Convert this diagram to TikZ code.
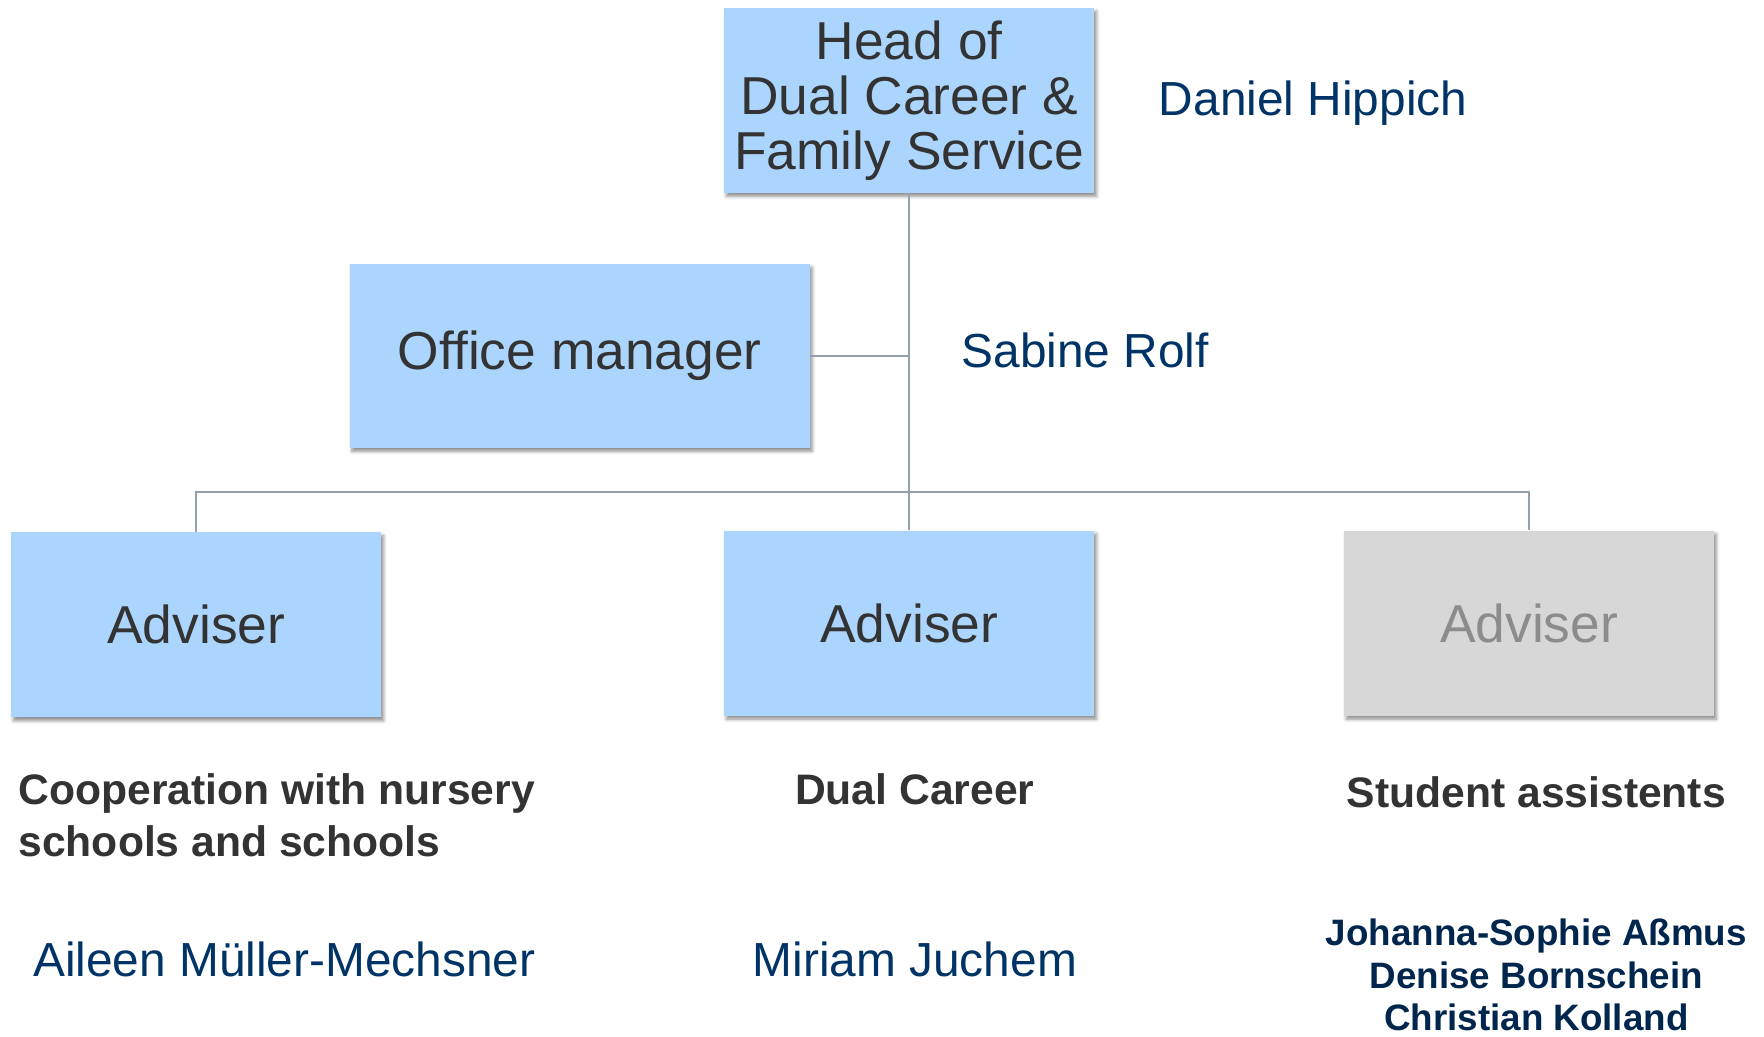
\documentclass[tikz,border=0pt]{standalone}
\usetikzlibrary{positioning,shadows.blur}
\usepackage{fontspec}
\setmainfont{Liberation Sans}
\definecolor{boxblue}{RGB}{171,213,252}
\definecolor{boxgrey}{RGB}{215,215,215}
\definecolor{textgrey}{RGB}{51,51,51}
\definecolor{greytext}{RGB}{140,140,140}
\definecolor{nameblue}{RGB}{0,51,102}
\definecolor{navy}{RGB}{0,38,77}
\definecolor{linegrey}{RGB}{150,160,172}

\begin{document}
\begin{tikzpicture}
		[x=0.5pt,y=-0.5pt,
		 box/.style={fill=boxblue,text=textgrey,minimum width=164pt,minimum height=82pt,inner sep=0pt,align=center,
		   font=\fontsize{23.65}{24.3}\selectfont,
		   blur shadow={shadow xshift=1pt,shadow yshift=-1.5pt,shadow blur radius=1.5pt,shadow opacity=45}},
		 conn/.style={draw=linegrey,line width=0.8pt},
		 person/.style={text=nameblue,inner sep=0pt,font=\fontsize{21.2}{24}\selectfont},
		 task/.style={text=textgrey,inner sep=0pt,align=left,font=\fontsize{18.9}{23}\selectfont\bfseries}]
		\useasboundingbox (0,0) rectangle (1563.8,919.3);

		% draw the boxes
		\node[box] (head) at (806,89) {Head of\\Dual Career \&\\Family Service};
		\node[box,minimum width=204pt,minimum height=81.5pt] (office) at (514,315.5) {Office manager};
		\node[box] (advA) at (174,554) {Adviser};
		\node[box] (advB) at (806,552.5) {Adviser};
		\node[box,fill=boxgrey,text=greytext] (advC) at (1355.5,552.5) {Adviser};

		% draw the connectors
		\coordinate (bus) at (806,436.5);
		\draw[conn] (head.south) -- (bus);
		\draw[conn] (office.east) -- (office.east -| head.south);
		\draw[conn] (advA.north) |- (bus) -| (advC.north);
		\draw[conn] (bus) -- (advB.north);

		% names and tasks
		\node[person,anchor=base west] (headname) at (1027,102) {Daniel Hippich};
		\node[person,anchor=base west] (officename) at (852,326) {Sabine Rolf};
		\node[task,anchor=base west] (taskA) at (16,759.5) {Cooperation with nursery\\schools and schools};
		\node[task,anchor=base] (taskB) at (811,713.5) {Dual Career};
		\node[task,anchor=base] (taskC) at (1362,715.5) {Student assistents};
		\node[person,anchor=base west] (nameA) at (29,866) {Aileen Müller-Mechsner};
		\node[person,anchor=base] (nameB) at (811,866) {Miriam Juchem};
		\node[task,anchor=base,align=center,text=navy,font=\fontsize{16.3}{18.75}\selectfont\bfseries] (nameC) at (1362,913.5)
		  {Johanna-Sophie Aßmus\\Denise Bornschein\\Christian Kolland};
	\end{tikzpicture}
\end{document}
